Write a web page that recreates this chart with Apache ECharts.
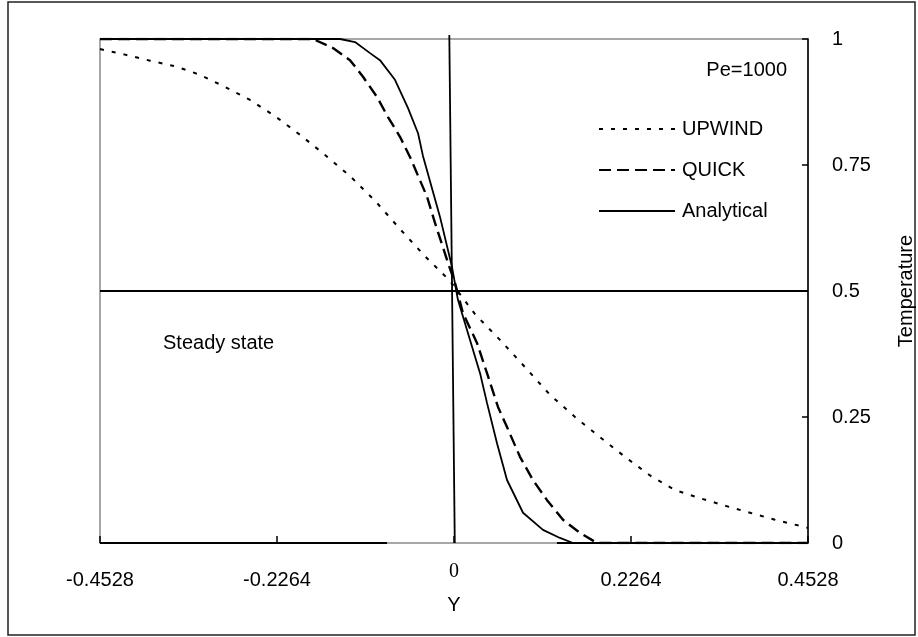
<!DOCTYPE html>
<html>
<head>
<meta charset="utf-8">
<script src="https://cdn.jsdelivr.net/npm/echarts@6/dist/echarts.min.js"></script>
<style>html,body{margin:0;padding:0;background:#fff;}#c{width:918px;height:637px;}</style>
</head>
<body>
<div id="c"></div>
<script>
// ---- data ----
var xTickLabels = ['-0.4528', '-0.2264', '0', '0.2264', '0.4528'];
var yTickLabels = ['0', '0.25', '0.5', '0.75', '1'];

var upwindY = [-0.4528,-0.4208,-0.3888,-0.3569,-0.3249,-0.2929,-0.2609,-0.2290,-0.1970,-0.1650,-0.1330,-0.1010,-0.0691,-0.0371,-0.0051,0.0269,0.0588,0.0908,0.1228,0.1548,0.1867,0.2187,0.2507,0.2827,0.3146,0.3466,0.3786,0.4106,0.4528];
var upwindT = [0.980,0.969,0.957,0.946,0.929,0.905,0.879,0.847,0.810,0.770,0.728,0.679,0.623,0.569,0.520,0.454,0.403,0.349,0.294,0.250,0.210,0.171,0.134,0.105,0.089,0.074,0.060,0.046,0.030];

var quickY = [-0.4528,-0.1804,-0.1548,-0.1330,-0.1164,-0.0985,-0.0844,-0.0691,-0.0563,-0.0345,-0.0243,-0.0077,0.0013,0.0115,0.0294,0.0422,0.0563,0.0678,0.0844,0.1010,0.1190,0.1394,0.1612,0.1829,0.4528];
var quickT = [1,1,0.982,0.958,0.925,0.885,0.845,0.806,0.766,0.687,0.635,0.556,0.516,0.456,0.397,0.337,0.270,0.230,0.171,0.125,0.085,0.046,0.020,0,0];

var analyticY = [-0.4528,-0.1458,-0.1266,-0.1074,-0.0947,-0.0755,-0.0588,-0.0460,-0.0397,-0.0179,-0.0026,0.0051,0.0205,0.0333,0.0422,0.0550,0.0678,0.0883,0.1138,0.1356,0.1522,0.4528];
var analyticT = [1,1,0.994,0.972,0.958,0.919,0.863,0.813,0.768,0.647,0.548,0.482,0.403,0.337,0.278,0.198,0.125,0.060,0.026,0.010,0,0];

// reference lines of the original figure
var stepY = [-0.006, 0.001];
var stepT = [1.008, 0];
var midY = [-0.4528, 0.4528];
var midT = [0.5, 0.5];
var baseLeftY = [-0.4528, -0.0857];
var baseRightY = [0.1317, 0.4528];
var baseT = [0, 0];

function pairs(xs, ys) { return xs.map(function (x, i) { return [x, ys[i]]; }); }

var FONT = 'Liberation Sans, Arial, Helvetica, sans-serif';
var chart = echarts.init(document.getElementById('c'), null, { renderer: 'canvas' });

function refLine(name, data, clip) {
  return { name: name, type: 'line', data: data, symbol: 'none', silent: true, clip: clip !== false,
    color: '#000', lineStyle: { color: '#000', width: 1.8, type: 'solid' }, z: 1, animation: false };
}

chart.setOption({
  animation: false,
  backgroundColor: '#fff',
  color: ['#000'],
  grid: { left: 100, right: 110, top: 39, bottom: 94, show: true, borderColor: '#8a8a8a', borderWidth: 1.5,
    containLabel: false, outerBoundsMode: 'none' },
  legend: {
    data: ['UPWIND', 'QUICK', 'Analytical'],
    orient: 'vertical', left: 593, top: 114,
    itemWidth: 76, itemHeight: 14, itemGap: 21,
    itemStyle: { opacity: 0 },
    textStyle: { fontFamily: FONT, fontSize: 20, color: '#000', padding: [0, 0, 0, 2] },
    selectedMode: false
  },
  xAxis: {
    type: 'value', min: -0.4528, max: 0.4528, interval: 0.2264,
    name: 'Y', nameLocation: 'middle', nameGap: 52,
    nameTextStyle: { fontFamily: FONT, fontSize: 20, color: '#000' },
    axisLine: { show: false, onZero: false },
    axisTick: { show: true, inside: true, length: 7, lineStyle: { color: '#000', width: 1.5 } },
    splitLine: { show: false },
    axisLabel: {
      margin: 27, fontFamily: FONT, fontSize: 20, color: '#000',
      formatter: function (v) {
        var idx = Math.round((v + 0.4528) / 0.2264);
        var s = xTickLabels[idx];
        return s === '0' ? '{z|0}' : s;
      },
      rich: { z: { fontFamily: 'Liberation Serif, Times New Roman, serif', fontSize: 20, color: '#000', lineHeight: 4 } }
    }
  },
  yAxis: {
    type: 'value', position: 'right', min: 0, max: 1, interval: 0.25,
    name: 'Temperature', nameLocation: 'middle', nameGap: 88, nameRotate: 90,
    nameTextStyle: { fontFamily: FONT, fontSize: 20, color: '#000' },
    axisLine: { show: true, onZero: false, lineStyle: { color: '#000', width: 1.5 } },
    axisTick: { show: true, inside: true, length: 6, lineStyle: { color: '#000', width: 1.5 } },
    splitLine: { show: false },
    axisLabel: {
      margin: 24, fontFamily: FONT, fontSize: 20, color: '#000',
      formatter: function (v) { return yTickLabels[Math.round(v / 0.25)]; }
    }
  },
  graphic: [
    { type: 'rect', shape: { x: 8, y: 2, width: 907, height: 633 }, style: { fill: 'none', stroke: '#222', lineWidth: 1.5 }, silent: true, z: -1 },
    { type: 'text', right: 918 - 787, top: 60, style: { text: 'Pe=1000', font: '20px ' + FONT, fill: '#000' }, silent: true },
    { type: 'text', left: 163, top: 333, style: { text: 'Steady state', font: '20px ' + FONT, fill: '#000' }, silent: true }
  ],
  series: [
    refLine('mid', pairs(midY, midT)),
    refLine('step', pairs(stepY, stepT), false),
    refLine('baseL', pairs(baseLeftY, baseT)),
    refLine('baseR', pairs(baseRightY, baseT)),
    { name: 'UPWIND', type: 'line', data: pairs(upwindY, upwindT), symbol: 'none', z: 3,
      itemStyle: { color: '#000' }, lineStyle: { color: '#000', width: 2, type: [4, 8] } },
    { name: 'QUICK', type: 'line', data: pairs(quickY, quickT), symbol: 'none', z: 3,
      itemStyle: { color: '#000' }, lineStyle: { color: '#000', width: 2.4, type: [12, 6] } },
    { name: 'Analytical', type: 'line', data: pairs(analyticY, analyticT), symbol: 'none', z: 3,
      itemStyle: { color: '#000' }, lineStyle: { color: '#000', width: 1.8, type: 'solid' } }
  ]
});
</script>
</body>
</html>
